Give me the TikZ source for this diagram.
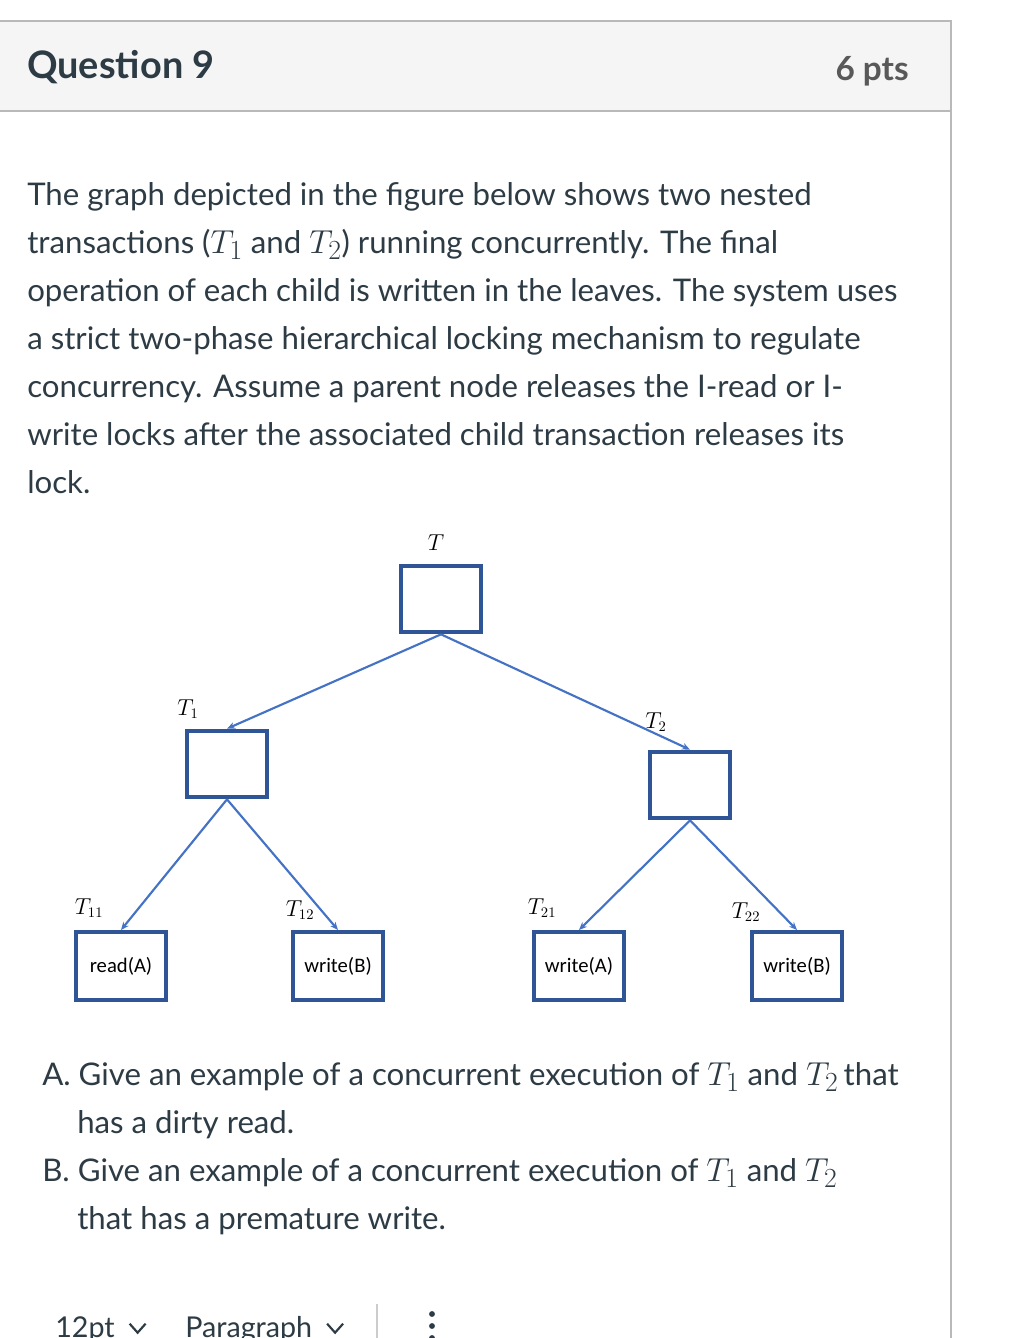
\documentclass[tikz,border=0pt]{standalone}
\usepackage{amsmath, amssymb}
\usepackage{fontspec}
\setmainfont{Lato}
\newfontfamily\leaffont{Carlito}
\usepackage{tikz}
\usetikzlibrary{arrows.meta, positioning}
\definecolor{canvastext}{HTML}{2D3B45}
\definecolor{boxblue}{HTML}{2F5597}
\definecolor{edgeblue}{HTML}{4472C4}
\tikzstyle{arrow} = [edgeblue, line width=1.6pt, -{Stealth[length=6pt, width=5pt]}]
\tikzstyle{tbox} = [rectangle, draw=boxblue, line width=3pt, minimum width=60pt, minimum height=50pt, inner sep=0pt]
\tikzstyle{leaf} = [rectangle, draw=boxblue, line width=3pt, minimum width=67pt, minimum height=51pt, inner sep=0pt, font=\leaffont\fontsize{15.5}{18}\selectfont, text=black]
\tikzstyle{tlabel} = [font=\fontsize{16}{18}\selectfont, inner sep=0pt]
\tikzstyle{para} = [anchor=base west, inner sep=0pt, text=canvastext, font=\fontsize{23.4}{28}\selectfont]
\tikzstyle{tool} = [anchor=base west, inner sep=0pt, text=canvastext, font=\fontsize{21.5}{26}\selectfont]
\newcommand{\tmath}[1]{{\fontsize{29}{30}\selectfont$#1$}}

\begin{document}
\begin{tikzpicture}[x=0.75pt, y=-0.75pt]
            \useasboundingbox (0,0) rectangle (1018,1338);
            \fill[white] (0,0) rectangle (1018,1338);
            \filldraw[fill=gray!8, draw=gray!55, line width=1.2pt] (-5,21) rectangle (951,111);
            \draw[gray!55, line width=1.2pt] (951,111) -- (951,1345);
            \node (qtitle) [anchor=base west, inner sep=0pt, text=canvastext, font=\bfseries\fontsize{28.4}{32}\selectfont] at (27,79) {Question 9};
            \node (qpts) [anchor=base east, inner sep=0pt, text=black!65, font=\bfseries\fontsize{25}{30}\selectfont] at (909,80) {6 pts};

            \node (l1) [para] at (27,205) {The graph depicted in the figure below shows two nested};
            \node (l2) [para] at (27,253) {transactions (\tmath{T_1} and \tmath{T_2}) running concurrently. The final};
            \node (l3) [para] at (27,301) {operation of each child is written in the leaves. The system uses};
            \node (l4) [para] at (27,349) {a strict two-phase hierarchical locking mechanism to regulate};
            \node (l5) [para] at (27,397) {concurrency. Assume a parent node releases the I-read or I-};
            \node (l6) [para] at (27,445) {write locks after the associated child transaction releases its};
            \node (l7) [para] at (27,493) {lock.};

            \node (troot) [tbox] at (441,599) {};
            \node (tone) [tbox] at (227,764) {};
            \node (ttwo) [tbox] at (690,785) {};
            \node (leafa) [leaf] at (121,966) {read(A)};
            \node (leafb) [leaf] at (338,966) {write(B)};
            \node (leafc) [leaf] at (579,966) {write(A)};
            \node (leafd) [leaf] at (797,966) {write(B)};

            \node (troottxt) [tlabel] at (436,543) {$T$};
            \node (tonetxt) [tlabel] at (188,709) {$T_1$};
            \node (ttwotxt) [tlabel] at (656,722) {$T_2$};
            \node (leafatxt) [tlabel] at (89,908) {$T_{11}$};
            \node (leafbtxt) [tlabel] at (300,910) {$T_{12}$};
            \node (leafctxt) [tlabel] at (542,908) {$T_{21}$};
            \node (leafdtxt) [tlabel] at (746,912) {$T_{22}$};

            \draw [arrow] (troot.south) -- (tone.north);
            \draw [arrow] (troot.south) -- (ttwo.north);
            \draw [arrow] (tone.south) -- (leafa.north);
            \draw [arrow] (tone.south) -- (leafb.north);
            \draw [arrow] (ttwo.south) -- (leafc.north);
            \draw [arrow] (ttwo.south) -- (leafd.north);

            \node (qa1) [para] at (42,1085) {A. Give an example of a concurrent execution of \tmath{T_1} and \tmath{T_2}\,that};
            \node (qa2) [para] at (77,1133) {has a dirty read.};
            \node (qb1) [para] at (42,1181) {B. Give an example of a concurrent execution of \tmath{T_1} and \tmath{T_2}};
            \node (qb2) [para] at (77,1229) {that has a premature write.};

            \node (fsize) [tool] at (55,1337) {12pt};
            \node (fpara) [tool] at (185,1337) {Paragraph};
            \draw[canvastext, line width=1.6pt] ([xshift=11pt,yshift=10pt]fsize.base east) -- ++(8,9) -- ++(8,-9);
            \draw[canvastext, line width=1.6pt] ([xshift=11pt,yshift=10pt]fpara.base east) -- ++(8,9) -- ++(8,-9);
            \draw[gray!40, line width=1pt] (377,1304) -- (377,1338);
            \foreach \dy in {1314,1326,1338}
                \fill[canvastext] (432,\dy) circle (2.2pt);
        \end{tikzpicture}
\end{document}
